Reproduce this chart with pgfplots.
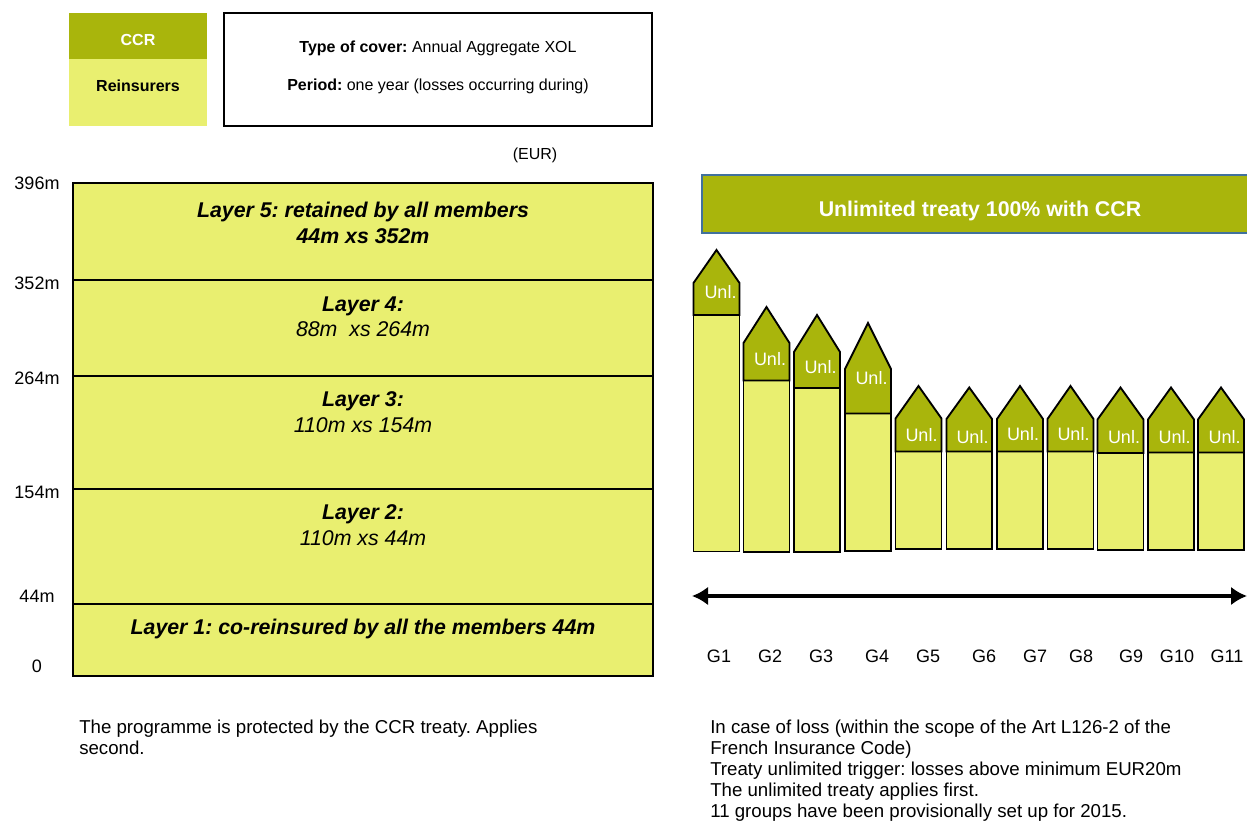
\documentclass[border=0pt]{standalone}
\usepackage{fontspec}
\setmainfont{Liberation Sans}
\usepackage{pgfplots}
\pgfplotsset{compat=1.18}
\usetikzlibrary{arrows.meta}
\definecolor{oliveD}{RGB}{169,181,12}
\definecolor{oliveL}{RGB}{233,239,112}
\definecolor{bordblue}{RGB}{65,113,156}
\newcommand{\fsz}[2]{\fontsize{#1}{#2}\selectfont}
\frenchspacing
\begin{document}
\frenchspacing
\begin{tikzpicture}
\begin{axis}[scale only axis, width=935.25pt, height=615.75pt,
  xmin=0, xmax=1247, ymin=0, ymax=821, y dir=reverse,
  hide axis, clip=false]
\coordinate (bl) at (axis cs:0,821);
\coordinate (tr) at (axis cs:1247,0);
% ---- legend boxes
\addplot[fill=oliveD, draw=none] coordinates {(69,13) (207,13) (207,59) (69,59)} --cycle;
\addplot[fill=oliveL, draw=none] coordinates {(69,59) (207,59) (207,126) (69,126)} --cycle;
\node[text=white, font=\bfseries\fsz{12pt}{14pt}] at (axis cs:138,40) {CCR};
\node[font=\bfseries\fsz{12pt}{14pt}] at (axis cs:138,86) {Reinsurers};
\addplot[fill=white, draw=black, line width=1.2pt] coordinates {(224,13) (652,13) (652,126) (224,126)} --cycle;
\node[font=\fsz{12pt}{14pt}] at (axis cs:438,48) {\textbf{Type of cover:} Annual Aggregate XOL};
\node[font=\fsz{12pt}{14pt}] at (axis cs:438,86) {\textbf{Period:} one year (losses occurring during)};
\node[font=\fsz{12pt}{14pt}] at (axis cs:535,155) {(EUR)};
% ---- layers (boundaries 0, 44m, 154m, 264m, 352m, 396m)
\addplot[fill=oliveL, draw=black, line width=2.2pt] coordinates {(73,604) (653,604) (653,676) (73,676)} --cycle;
\addplot[fill=oliveL, draw=black, line width=2.2pt] coordinates {(73,489) (653,489) (653,604) (73,604)} --cycle;
\addplot[fill=oliveL, draw=black, line width=2.2pt] coordinates {(73,376) (653,376) (653,489) (73,489)} --cycle;
\addplot[fill=oliveL, draw=black, line width=2.2pt] coordinates {(73,280) (653,280) (653,376) (73,376)} --cycle;
\addplot[fill=oliveL, draw=black, line width=2.2pt] coordinates {(73,183) (653,183) (653,280) (73,280)} --cycle;
\foreach \yy/\lab in {183/396m, 283/352m, 378/264m, 492/154m, 596/44m, 666/0}{
  \edef\tmp{\noexpand\node[font=\noexpand\fsz{13.5pt}{15pt}] at (axis cs:37,\yy) {\lab};}\tmp
}
\node[align=center, font=\bfseries\itshape\fsz{16pt}{19.5pt}] at (axis cs:363,223) {Layer 5: retained by all members\\44m xs 352m};
\node[align=center, font=\itshape\fsz{16pt}{19pt}] at (axis cs:363,316.5) {\textbf{Layer 4:}\\88m\ \ xs 264m};
\node[align=center, font=\itshape\fsz{16pt}{19pt}] at (axis cs:363,412) {\textbf{Layer 3:}\\110m xs 154m};
\node[align=center, font=\itshape\fsz{16pt}{19pt}] at (axis cs:363,525) {\textbf{Layer 2:}\\110m xs 44m};
\node[font=\bfseries\itshape\fsz{16pt}{19pt}] at (axis cs:363,629) {Layer 1: co-reinsured by all the members 44m};
% ---- unlimited treaty header
\addplot[fill=oliveD, draw=none] coordinates {(702,175) (1247,175) (1247,233) (702,233)} --cycle;
\addplot[draw=bordblue, line width=1.2pt] coordinates {(1247,175) (702,175) (702,233) (1247,233)};
\node[text=white, font=\bfseries\fsz{16pt}{19pt}] at (axis cs:980,211) {Unlimited treaty 100\% with CCR};
% ---- group bars: base / retained top / shoulder / apex
% G1
\addplot[fill=oliveL, draw=black, line width=1.4pt] coordinates {(693.5,551.5) (693.5,315) (739.5,315) (739.5,551.5)} --cycle;
\addplot[fill=oliveD, draw=black, line width=1.4pt] coordinates {(693.5,315) (693.5,283) (716.5,250) (739.5,283) (739.5,315)} --cycle;
% G2
\addplot[fill=oliveL, draw=black, line width=1.4pt] coordinates {(743.5,552) (743.5,380.5) (789.5,380.5) (789.5,552)} --cycle;
\addplot[fill=oliveD, draw=black, line width=1.4pt] coordinates {(743.5,380.5) (743.5,343) (766.5,307) (789.5,343) (789.5,380.5)} --cycle;
% G3
\addplot[fill=oliveL, draw=black, line width=1.4pt] coordinates {(794,552) (794,388) (840,388) (840,552)} --cycle;
\addplot[fill=oliveD, draw=black, line width=1.4pt] coordinates {(794,388) (794,352) (817,315) (840,352) (840,388)} --cycle;
% G4
\addplot[fill=oliveL, draw=black, line width=1.4pt] coordinates {(845,551) (845,413.5) (891,413.5) (891,551)} --cycle;
\addplot[fill=oliveD, draw=black, line width=1.4pt] coordinates {(845,413.5) (845,369) (868,323) (891,369) (891,413.5)} --cycle;
% G5
\addplot[fill=oliveL, draw=black, line width=1.4pt] coordinates {(895.5,549) (895.5,451.5) (941.5,451.5) (941.5,549)} --cycle;
\addplot[fill=oliveD, draw=black, line width=1.4pt] coordinates {(895.5,451.5) (895.5,418.5) (918.5,386) (941.5,418.5) (941.5,451.5)} --cycle;
% G6
\addplot[fill=oliveL, draw=black, line width=1.4pt] coordinates {(946.5,549) (946.5,451.5) (992,451.5) (992,549)} --cycle;
\addplot[fill=oliveD, draw=black, line width=1.4pt] coordinates {(946.5,451.5) (946.5,419) (969.25,387.5) (992,419) (992,451.5)} --cycle;
% G7
\addplot[fill=oliveL, draw=black, line width=1.4pt] coordinates {(997,549) (997,451.5) (1043,451.5) (1043,549)} --cycle;
\addplot[fill=oliveD, draw=black, line width=1.4pt] coordinates {(997,451.5) (997,419) (1020,386) (1043,419) (1043,451.5)} --cycle;
% G8
\addplot[fill=oliveL, draw=black, line width=1.4pt] coordinates {(1047.5,549) (1047.5,451.5) (1093.5,451.5) (1093.5,549)} --cycle;
\addplot[fill=oliveD, draw=black, line width=1.4pt] coordinates {(1047.5,451.5) (1047.5,419) (1070.5,386) (1093.5,419) (1093.5,451.5)} --cycle;
% G9
\addplot[fill=oliveL, draw=black, line width=1.4pt] coordinates {(1097.5,550) (1097.5,453) (1143.5,453) (1143.5,550)} --cycle;
\addplot[fill=oliveD, draw=black, line width=1.4pt] coordinates {(1097.5,453) (1097.5,419.5) (1120.5,387.5) (1143.5,419.5) (1143.5,453)} --cycle;
% G10
\addplot[fill=oliveL, draw=black, line width=1.4pt] coordinates {(1148,550) (1148,452.5) (1194,452.5) (1194,550)} --cycle;
\addplot[fill=oliveD, draw=black, line width=1.4pt] coordinates {(1148,452.5) (1148,419.5) (1171,387.5) (1194,419.5) (1194,452.5)} --cycle;
% G11
\addplot[fill=oliveL, draw=black, line width=1.4pt] coordinates {(1198,550) (1198,452.5) (1244,452.5) (1244,550)} --cycle;
\addplot[fill=oliveD, draw=black, line width=1.4pt] coordinates {(1198,452.5) (1198,419.5) (1221,387.5) (1244,419.5) (1244,452.5)} --cycle;
% Unl. labels
\foreach \xx/\yy in {720.5/292, 770/359, 820.5/367, 871.5/378, 921.5/435.5, 972.5/437, 1023/434, 1073.5/434, 1124/437, 1174.5/437, 1224.5/437}{
  \edef\tmp{\noexpand\node[text=white, font=\noexpand\fsz{13.5pt}{15pt}] at (axis cs:\xx,\yy) {Unl.};}\tmp
}
% arrow
\addplot[{Latex[length=12pt,width=14pt]}-{Latex[length=12pt,width=14pt]}, line width=2.4pt] coordinates {(692,596) (1247,596)};
% group labels
\foreach \xx/\lab in {719/G1, 770/G2, 821/G3, 877/G4, 928/G5, 984/G6, 1035/G7, 1081/G8, 1131/G9, 1177/G10, 1227/G11}{
  \edef\tmp{\noexpand\node[font=\noexpand\fsz{13.5pt}{15pt}] at (axis cs:\xx,656) {\lab};}\tmp
}
% notes
\node[anchor=base west, font=\fsz{14pt}{16pt}, inner sep=0pt] at (axis cs:79,733.5) {The programme is protected by the CCR treaty. Applies};
\node[anchor=base west, font=\fsz{14pt}{16pt}, inner sep=0pt] at (axis cs:79,754.5) {second.};
\node[anchor=base west, font=\fsz{14pt}{16pt}, inner sep=0pt] at (axis cs:710,733.5) {In case of loss (within the scope of the Art L126-2 of the};
\node[anchor=base west, font=\fsz{14pt}{16pt}, inner sep=0pt] at (axis cs:710,754.5) {French Insurance Code)};
\node[anchor=base west, font=\fsz{14pt}{16pt}, inner sep=0pt] at (axis cs:710,775.5) {Treaty unlimited trigger: losses above minimum EUR20m};
\node[anchor=base west, font=\fsz{14pt}{16pt}, inner sep=0pt] at (axis cs:710,796.5) {The unlimited treaty applies first.};
\node[anchor=base west, font=\fsz{14pt}{16pt}, inner sep=0pt] at (axis cs:710,817.5) {11 groups have been provisionally set up for 2015.};
\end{axis}
\pgfresetboundingbox
\useasboundingbox (bl) rectangle (tr);
\end{tikzpicture}
\end{document}
